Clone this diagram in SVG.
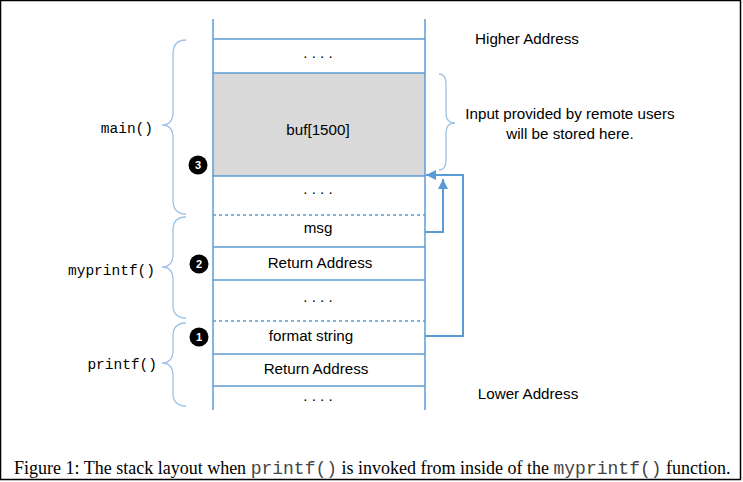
<svg xmlns="http://www.w3.org/2000/svg" width="743" height="482" viewBox="0 0 743 482">
<defs>
<style>
.ln{stroke:#5b9bd5;stroke-width:1.5;fill:none}
.dash{stroke:#5b9bd5;stroke-width:1.5;stroke-dasharray:3,3;fill:none}
.br{stroke:#9dc3e6;stroke-width:1.3;fill:none}
.t{font-family:"Liberation Sans",Arial,sans-serif;font-size:15.2px;fill:#000;text-anchor:middle}
.m{font-family:"Liberation Mono","DejaVu Sans Mono",monospace;font-size:14.5px;fill:#000;text-anchor:end}
.num{font-family:"Liberation Sans",Arial,sans-serif;font-size:11px;font-weight:bold;fill:#fff;text-anchor:middle}
.cap{font-family:"Liberation Serif","Times New Roman",serif;font-size:18px;fill:#000}
.capm{font-family:"Liberation Mono","Courier New",monospace;font-size:18px;fill:#444}
.con{stroke:#5b9bd5;stroke-width:2;fill:none}
</style>
<marker id="ah" viewBox="0 0 10 10" refX="10" refY="5" markerWidth="5" markerHeight="5" orient="auto" markerUnits="strokeWidth">
<path d="M0,0 L10,5 L0,10 z" fill="#5b9bd5"/>
</marker>
</defs>
<rect x="0.5" y="0.5" width="740" height="479" fill="#fff" stroke="#000" stroke-width="1.5"/>

<g id="stack">
<rect x="213" y="73" width="212" height="103" fill="#d9d9d9"/>
<line class="ln" x1="213" y1="19" x2="213" y2="410"/>
<line class="ln" x1="425" y1="19" x2="425" y2="410"/>
<line class="ln" x1="213" y1="39" x2="425" y2="39"/>
<line class="ln" x1="213" y1="73" x2="425" y2="73"/>
<line class="ln" x1="213" y1="176" x2="425" y2="176"/>
<line class="dash" x1="213" y1="215" x2="425" y2="215"/>
<line class="ln" x1="213" y1="247" x2="425" y2="247"/>
<line class="ln" x1="213" y1="280" x2="425" y2="280"/>
<line class="dash" x1="213" y1="321" x2="425" y2="321"/>
<line class="ln" x1="213" y1="354" x2="425" y2="354"/>
<line class="ln" x1="213" y1="386" x2="425" y2="386"/>
</g>

<g id="cells">
<text class="t" x="318" y="58">. . . .</text>
<text class="t" x="318" y="135">buf[1500]</text>
<text class="t" x="318" y="194">. . . .</text>
<text class="t" x="318" y="233">msg</text>
<text class="t" x="320" y="268">Return Address</text>
<text class="t" x="318" y="302">. . . .</text>
<text class="t" x="311" y="341">format string</text>
<text class="t" x="316" y="374">Return Address</text>
<text class="t" x="318" y="401">. . . .</text>
</g>

<g id="labels">
<text class="t" x="527" y="44">Higher Address</text>
<text class="t" x="528" y="399">Lower Address</text>
<text class="t" x="570" y="119">Input provided by remote users</text>
<text class="t" x="570" y="139">will be stored here.</text>
<text class="m" x="153" y="133">main()</text>
<text class="m" x="155" y="275">myprintf()</text>
<text class="m" x="157" y="369">printf()</text>
</g>

<g id="braces">
<path class="br" d="M186,40 Q173,40 173,54 L173,112 Q173,125 162,125 Q173,125 173,138 L173,200 Q173,214 186,214"/>
<path class="br" d="M186,217 Q173,217 173,230 L173,254 Q173,267 162,267 Q173,267 173,280 L173,305 Q173,318 186,318"/>
<path class="br" d="M186,323 Q173,323 173,336 L173,350 Q173,363 162,363 Q173,363 173,376 L173,393 Q173,406 186,406"/>
<path class="br" d="M439,74 Q446,74 446,84 L446,113 Q446,123 455,123 Q446,123 446,133 L446,160 Q446,170 439,170"/>
</g>

<g id="badges">
<circle cx="198" cy="165" r="9.5" fill="#000"/>
<text class="num" x="198" y="169">3</text>
<circle cx="199" cy="264" r="9.5" fill="#000"/>
<text class="num" x="199" y="268">2</text>
<circle cx="199" cy="337" r="9.5" fill="#000"/>
<text class="num" x="199" y="341">1</text>
</g>

<g id="connectors">
<polyline class="con" points="425,336 463,336 463,175 426,175" marker-end="url(#ah)"/>
<polyline class="con" points="425,232 443,232 443,179" marker-end="url(#ah)"/>
</g>

<g id="caption">
<text x="14" y="474"><tspan class="cap">Figure 1: The stack layout when </tspan><tspan class="capm">printf()</tspan><tspan class="cap"> is invoked from inside of the </tspan><tspan class="capm">myprintf()</tspan><tspan class="cap"> function.</tspan></text>
</g>
</svg>
